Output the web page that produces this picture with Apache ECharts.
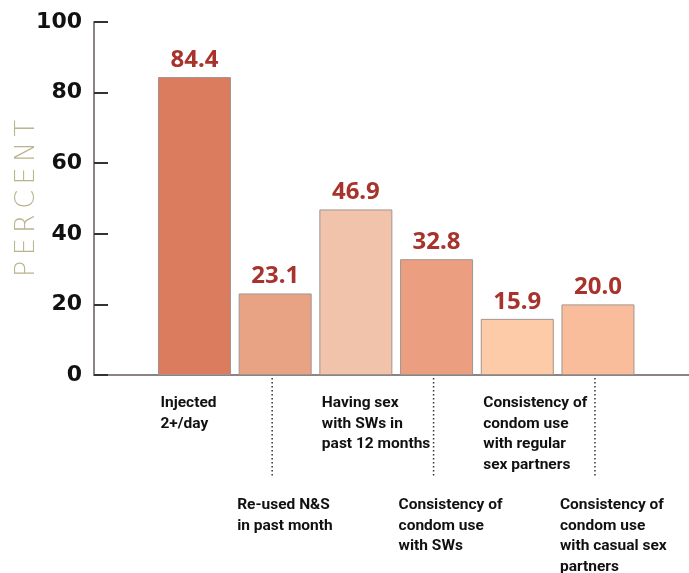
<!DOCTYPE html>
<html>
<head>
    <meta charset="utf-8">
    <title>Percent by behaviour</title>
    <script src="https://cdn.jsdelivr.net/npm/echarts@6/dist/echarts.min.js"></script>
    <style>
        html, body { margin: 0; padding: 0; background: #ffffff; }
        #chart { width: 689px; height: 573px; }
    </style>
</head>
<body>
    <div id="chart"></div>
    <script>
        // categories (line breaks as printed) and values
        const categories = [
            'Injected\n2+/day',
            'Re-used N&S\nin past month',
            'Having sex\nwith SWs in\npast 12 months',
            'Consistency of\ncondom use\nwith SWs',
            'Consistency of\ncondom use\nwith regular\nsex partners',
            'Consistency of\ncondom use\nwith casual sex\npartners'
        ];
        const values = [84.4, 23.1, 46.9, 32.8, 15.9, 20.0];
        const barColors = ['#dc7c5e', '#e7a384', '#f1c3ab', '#ec9f80', '#fdcba8', '#f9bd9c'];
        const yTicks = [0, 20, 40, 60, 80, 100];

        const chart = echarts.init(document.getElementById('chart'));

        const barData = values.map((v, i) => ({
            value: [i + 1, v],
            itemStyle: { color: barColors[i] }
        }));
        const labelData = categories.map((c, i) => [i + 1, 0]);

        const option = {
            animation: false,
            grid: { left: 94, right: 0, top: 22, bottom: 198, containLabel: false, outerBoundsMode: 'none' },
            xAxis: {
                type: 'value',
                min: -0.245,
                max: 7.128,
                axisLine: { show: true, onZero: false, lineStyle: { color: '#8c8484', width: 2 } },
                axisTick: { show: false },
                axisLabel: { show: false },
                splitLine: { show: false }
            },
            yAxis: {
                type: 'value',
                min: yTicks[0],
                max: yTicks[yTicks.length - 1],
                interval: 20,
                name: 'P\u2009E\u2009R\u2009C\u2009E\u2009N\u2009T',
                nameLocation: 'middle',
                nameRotate: 90,
                nameGap: 54,
                nameMoveOverlap: false,
                nameTextStyle: {
                    color: '#b9b58e',
                    fontFamily: 'DejaVu Sans',
                    fontWeight: 200,
                    fontSize: 27
                },
                axisLine: { show: true, onZero: false, lineStyle: { color: '#8c8484', width: 2 } },
                axisTick: { show: true, inside: true, length: 14, lineStyle: { color: '#333', width: 2 } },
                axisLabel: {
                    margin: 12,
                    color: '#111',
                    fontFamily: 'DejaVu Sans',
                    fontWeight: 'bold',
                    fontSize: 22
                },
                splitLine: { show: false }
            },
            series: [
                {
                    type: 'bar',
                    barWidth: 73,
                    data: barData,
                    itemStyle: { borderColor: '#a09590', borderWidth: 1 },
                    label: {
                        show: true,
                        position: 'top',
                        distance: 5,
                        formatter: p => p.value[1].toFixed(1),
                        color: '#a8322c',
                        fontFamily: 'Noto Sans',
                        fontWeight: 'bold',
                        fontSize: 24
                    }
                },
                {
                    type: 'custom',
                    coordinateSystem: 'cartesian2d',
                    silent: true,
                    data: labelData,
                    renderItem: function (params, api) {
                        const pt = api.coord([api.value(0), api.value(1)]);
                        const i = params.dataIndex;
                        const lower = i % 2 === 1;
                        const children = [{
                            type: 'text',
                            style: {
                                text: categories[i],
                                x: pt[0] - (lower ? 38 : 34),
                                y: pt[1] + (lower ? 120 : 18),
                                fill: '#111',
                                fontFamily: 'Roboto',
                                fontWeight: 'bold',
                                fontSize: 15.5,
                                lineHeight: 20.5,
                                align: 'left',
                                verticalAlign: 'top'
                            }
                        }];
                        if (lower) {
                            children.push({
                                type: 'line',
                                shape: { x1: pt[0] - 3, y1: pt[1] + 3, x2: pt[0] - 3, y2: pt[1] + 103 },
                                style: { stroke: '#333', lineWidth: 1.5, lineDash: [1.5, 2.5] }
                            });
                        }
                        return { type: 'group', children: children };
                    }
                }
            ]
        };
        chart.setOption(option);
    </script>
</body>
</html>
